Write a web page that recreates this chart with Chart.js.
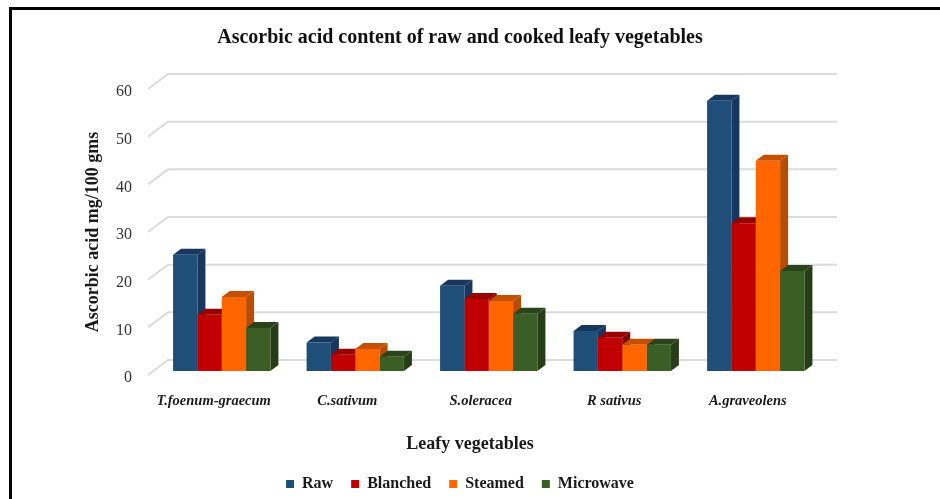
<!DOCTYPE html>
<html>
<head>
<meta charset="utf-8">
<style>
html, body { margin: 0; padding: 0; background: #fff; overflow: hidden; }
#wrap { position: relative; width: 940px; height: 499px; }
#frame { position: absolute; left: 9px; top: 7px; width: 931px; height: 492px; border-top: 3px solid #000; border-left: 3px solid #000; box-sizing: border-box; }
canvas { position: absolute; left: 0; top: 0; }
</style>
</head>
<body>
<div id="wrap">
  <div id="frame"></div>
  <canvas id="chart" width="940" height="499"></canvas>
</div>
<script src="https://cdn.jsdelivr.net/npm/chart.js@4/dist/chart.umd.min.js"></script>
<script>
const categories = ["T.foenum-graecum", "C.sativum", "S.oleracea", "R sativus", "A.graveolens"];
const raw = [24.4, 6, 17.9, 8.4, 56.7];
const blanched = [11.8, 3.4, 15.1, 7, 31];
const steamed = [15.5, 4.6, 14.7, 5.5, 44.1];
const microwave = [9, 3, 12, 5.5, 21];

const serif = "'Liberation Serif', 'Times New Roman', serif";
const depthX = 8;
const depthY = 6;

function series(label, data, color, top, side) {
    return { label, data, backgroundColor: color, top, side, borderWidth: 0 };
}

// back wall lines plus the short diagonals running out to the tick labels
const wallGrid = {
    id: "wallGrid",
    beforeDatasetsDraw(chart) {
        let ctx = chart.ctx;
        let y = chart.scales.y;
        ctx.save();
        ctx.strokeStyle = "#dcdcdc";
        ctx.lineWidth = 2;
        for (let t of y.ticks) {
            let p = y.getPixelForValue(t.value);
            ctx.beginPath();
            ctx.moveTo(148, p + 4);
            ctx.lineTo(168, p - 11);
            ctx.lineTo(837, p - 11);
            ctx.stroke();
        }
        ctx.restore();
    }
};

// top and side faces, left to right, so the native front faces land on top of them
const barDepth = {
    id: "barDepth",
    beforeDatasetsDraw(chart) {
        let ctx = chart.ctx;
        chart.data.datasets.forEach((ds, i) => {
            for (let bar of chart.getDatasetMeta(i).data) {
                let left = bar.x - bar.width / 2;
                let right = bar.x + bar.width / 2;
                ctx.fillStyle = ds.side;
                ctx.beginPath();
                ctx.moveTo(right, bar.y);
                ctx.lineTo(right + depthX, bar.y - depthY);
                ctx.lineTo(right + depthX, bar.base - depthY);
                ctx.lineTo(right, bar.base);
                ctx.closePath();
                ctx.fill();
                ctx.fillStyle = ds.top;
                ctx.beginPath();
                ctx.moveTo(left, bar.y);
                ctx.lineTo(left + depthX, bar.y - depthY);
                ctx.lineTo(right + depthX, bar.y - depthY);
                ctx.lineTo(right, bar.y);
                ctx.closePath();
                ctx.fill();
            }
        });
    }
};

// axis titles sit off the plot centre, so they are placed by hand
const axisTitles = {
    id: "axisTitles",
    afterDraw(chart) {
        let ctx = chart.ctx;
        ctx.save();
        ctx.fillStyle = "#1a1a1a";
        ctx.textAlign = "center";
        ctx.textBaseline = "middle";
        ctx.font = "bold 18px " + serif;
        ctx.fillText("Leafy vegetables", 470, 444);
        ctx.translate(93, 232);
        ctx.rotate(-Math.PI / 2);
        ctx.fillText("Ascorbic acid mg/100 gms", 0, 0);
        ctx.restore();
    }
};

new Chart(document.getElementById("chart").getContext("2d"), {
    type: "bar",
    data: {
        labels: categories,
        datasets: [
            series("Raw", raw, "#1f4e79", "#17375e", "#17375e"),
            series("Blanched", blanched, "#c00000", "#990000", "#800000"),
            series("Steamed", steamed, "#ff6600", "#c55000", "#b84c00"),
            series("Microwave", microwave, "#3b5e26", "#2a431b", "#263d17")
        ]
    },
    plugins: [wallGrid, barDepth, axisTitles],
    options: {
        responsive: false,
        animation: false,
        categoryPercentage: 0.729,
        barPercentage: 1,
        layout: { padding: { left: 97.5, right: 117.5, top: 0, bottom: -3 } },
        scales: {
            y: {
                min: 0,
                max: 60,
                afterFit: s => { s.width = 57.5; },
                border: { display: false },
                grid: { display: false },
                ticks: {
                    stepSize: 10,
                    padding: 15,
                    labelOffset: 7,
                    color: "#333",
                    font: { family: serif, size: 16 }
                }
            },
            x: {
                afterFit: s => { s.height = 87; },
                border: { display: false },
                grid: { display: false, drawTicks: false },
                ticks: {
                    padding: 22,
                    labelOffset: -8,
                    maxRotation: 0,
                    color: "#1a1a1a",
                    font: { family: serif, size: 14.5, style: "italic", weight: "bold" }
                }
            }
        },
        plugins: {
            tooltip: { enabled: false },
            title: {
                display: true,
                text: "Ascorbic acid content of raw and cooked leafy vegetables",
                color: "#111",
                font: { family: serif, size: 20, weight: "bold" },
                padding: { top: 25.5, bottom: 35.5 }
            },
            legend: {
                position: "bottom",
                labels: {
                    boxWidth: 8,
                    boxHeight: 8,
                    padding: 18,
                    color: "#1a1a1a",
                    font: { family: serif, size: 16, weight: "bold" }
                }
            }
        }
    }
});
</script>
</body>
</html>
